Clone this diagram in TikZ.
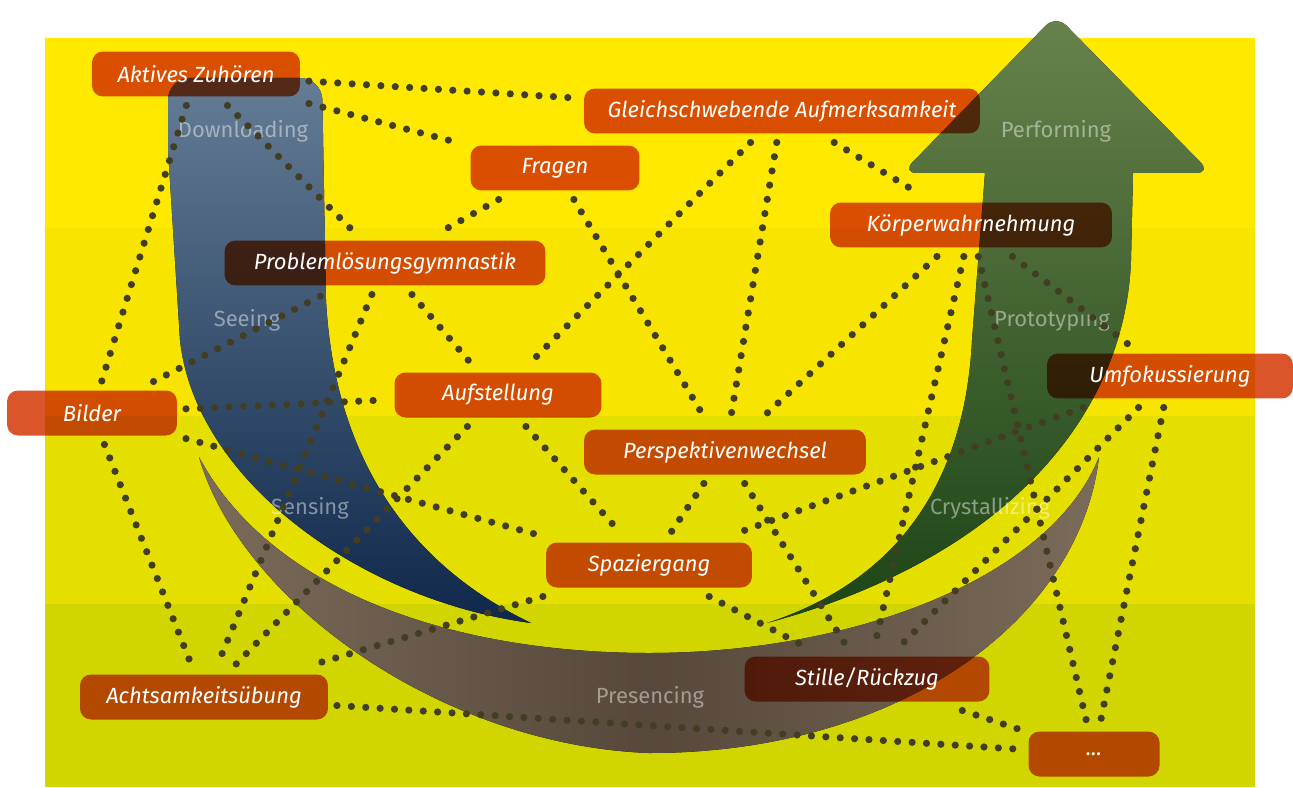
\documentclass[tikz,border=0pt]{standalone}
\usepackage{fontspec}
\setsansfont{Fira Sans}
\usepackage{tikz}
\usetikzlibrary{positioning}

\definecolor{bandA}{RGB}{255,233,0}
\definecolor{bandB}{RGB}{247,229,0}
\definecolor{bandC}{RGB}{229,223,0}
\definecolor{bandD}{RGB}{210,214,0}
\definecolor{tagfill}{RGB}{218,86,42}
\definecolor{dotcol}{RGB}{66,62,36}
\definecolor{blueTop}{RGB}{100,124,148}
\definecolor{blueBot}{RGB}{15,40,75}
\definecolor{brownMid}{RGB}{86,72,58}
\definecolor{brownEnd}{RGB}{122,107,90}
\definecolor{greenTop}{RGB}{104,130,76}
\definecolor{greenBot}{RGB}{28,68,22}

\begin{document}
\begin{tikzpicture}[
    x=0.02cm, y=-0.02cm,
    tag/.style={rectangle, rounded corners=0.22cm, minimum height=0.9cm, inner sep=0pt, outer sep=0.18cm, text=white, font=\sffamily\itshape\fontsize{12.5}{14}\selectfont, preaction={fill=tagfill, blend mode=multiply}},
    phase/.style={text=white, text opacity=0.45, font=\sffamily\fontsize{12.5}{14}\selectfont},
    link/.style={draw=dotcol, line width=4.1pt, line cap=round, dash pattern=on 0pt off 8.2pt}
]

% Background
\fill[white] (0,0) rectangle (1293,787);
\useasboundingbox (0,0) rectangle (1293,787);
\fill[bandA] (45,38) rectangle (1255,228);
\fill[bandB] (45,228) rectangle (1255,416);
\fill[bandC] (45,416) rectangle (1255,604);
\fill[bandD] (45,604) rectangle (1255,787);

% U shape
\fill[left color=brownEnd, right color=brownEnd, middle color=brownMid] (199,457) .. controls (240,600) and (440,745) .. (649,753) .. controls (900,753) and (1080,620) .. (1099,457) .. controls (1050,580) and (850,653) .. (649,653) .. controls (450,653) and (270,590) .. (199,457) -- cycle;
\fill[top color=blueTop, bottom color=blueBot] (168,150) [rounded corners=0.44cm] -- (168,78) -- (322,78) [sharp corners] -- (326,300) .. controls (335,470) and (420,570) .. (531,623) .. controls (360,600) and (195,480) .. (180,340) -- cycle;
\fill[top color=greenTop, bottom color=greenBot] (767,623) .. controls (900,580) and (965,480) .. (972,340) -- (985,173) [rounded corners=0.3cm] -- (902,173) -- (1056,15) -- (1211,173) [sharp corners] -- (1133,173) -- (1131,260) .. controls (1125,420) and (1000,560) .. (767,623) -- cycle;

\node[phase] (download) at (243,131) {Downloading};
\node[phase] (seeing) at (247,320) {Seeing};
\node[phase] (sensing) at (310,508) {Sensing};
\node[phase] (presencing) at (650,697) {Presencing};
\node[phase] (crystal) at (990,508) {Crystallizing};
\node[phase] (proto) at (1052,320) {Prototyping};
\node[phase] (perform) at (1056,131) {Performing};

% Nodes
\node[tag, minimum width=4.16cm] (zuhoeren) at (196,74) {Aktives Zuhören};
\node[tag, minimum width=7.92cm] (gleich) at (782,111) {Gleichschwebende Aufmerksamkeit};
\node[tag, minimum width=3.38cm] (fragen) at (555,168) {Fragen};
\node[tag, minimum width=5.64cm] (koerper) at (971,225) {Körperwahrnehmung};
\node[tag, minimum width=6.42cm] (problem) at (385,263) {Problemlösungsgymnastik};
\node[tag, minimum width=4.92cm] (umfok) at (1170,376) {Umfokussierung};
\node[tag, minimum width=3.4cm] (bilder) at (92,413) {Bilder};
\node[tag, minimum width=4.14cm] (aufst) at (498,395) {Aufstellung};
\node[tag, minimum width=5.64cm] (persp) at (725,452) {Perspektivenwechsel};
\node[tag, minimum width=4.12cm] (spazier) at (649,565) {Spaziergang};
\node[tag, minimum width=4.9cm] (stille) at (867,679) {Stille/Rückzug};
\node[tag, minimum width=4.96cm] (achtsam) at (204,697) {Achtsamkeitsübung};
\node[tag, minimum width=2.62cm] (etc) at (1094,754) {...};

% Dotted links
\draw[link] (zuhoeren) -- (gleich);
\draw[link] (zuhoeren) -- (fragen);
\draw[link] (zuhoeren) -- (problem);
\draw[link] (zuhoeren) -- (bilder);
\draw[link] (fragen) -- (problem);
\draw[link] (fragen) -- (persp);
\draw[link] (gleich) -- (aufst);
\draw[link] (gleich) -- (persp);
\draw[link] (gleich) -- (koerper);
\draw[link] (koerper) -- (persp);
\draw[link] (koerper) -- (stille);
\draw[link] (koerper) -- (umfok);
\draw[link] (koerper) -- (etc);
\draw[link] (problem) -- (aufst);
\draw[link] (problem) -- (achtsam);
\draw[link] (bilder) -- (problem);
\draw[link] (bilder) -- (aufst);
\draw[link] (bilder) -- (achtsam);
\draw[link] (bilder) -- (spazier);
\draw[link] (aufst) -- (spazier);
\draw[link] (aufst) -- (achtsam);
\draw[link] (persp) -- (spazier);
\draw[link] (persp) -- (stille);
\draw[link] (umfok) -- (stille);
\draw[link] (umfok) -- (etc);
\draw[link] (umfok) -- (spazier);
\draw[link] (spazier) -- (achtsam);
\draw[link] (spazier) -- (stille);
\draw[link] (achtsam) -- (etc);
\draw[link] (stille) -- (etc);

\end{tikzpicture}
\end{document}
